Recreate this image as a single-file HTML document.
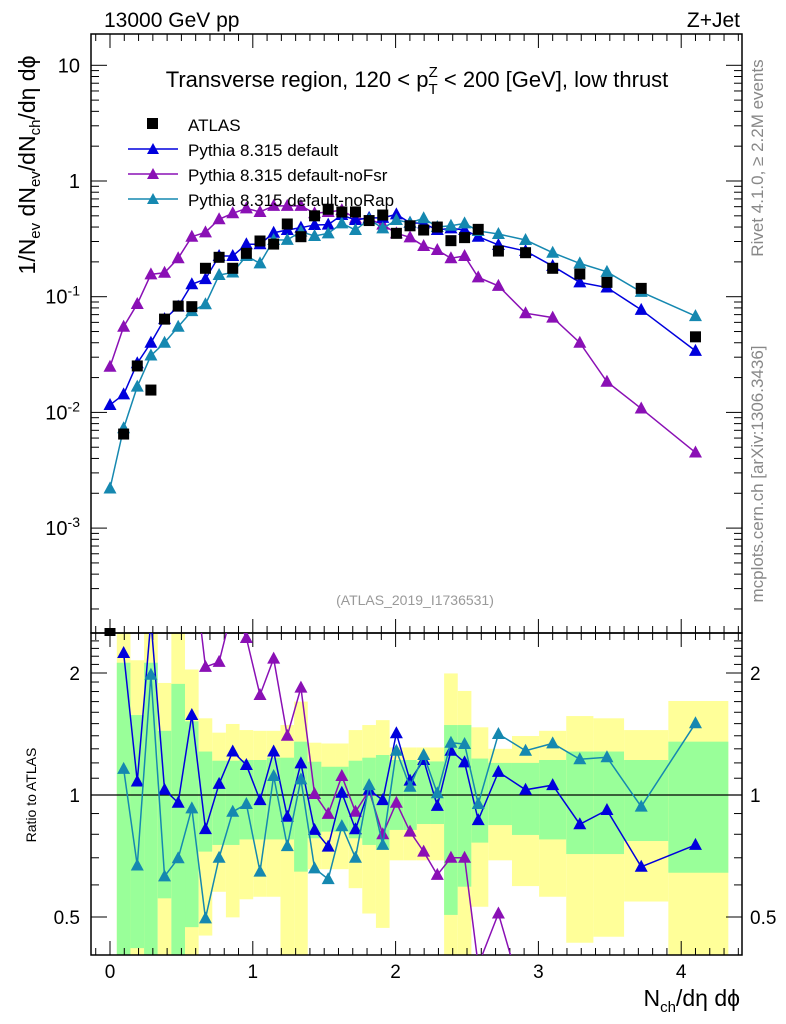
<!DOCTYPE html>
<html><head><meta charset="utf-8"><style>
html,body{margin:0;padding:0;background:#fff;overflow:hidden;width:786px;height:1024px;}
svg{display:block;font-family:"Liberation Sans",sans-serif;}
</style></head><body>
<svg id="chart" width="786" height="1024" viewBox="0 0 786 1024" xmlns="http://www.w3.org/2000/svg">
<defs>
<clipPath id="clipMain"><rect x="91" y="34" width="651" height="599"/></clipPath>
<clipPath id="clipRatio"><rect x="91" y="633" width="651" height="322"/></clipPath>
</defs>
<g id="bands" clip-path="url(#clipRatio)"></g>
<g id="grid"></g>
<g id="mainMarks" clip-path="url(#clipMain)"></g>
<g id="ratioMarks" clip-path="url(#clipRatio)"></g>
<g id="texts">
<text x="104" y="27" font-size="21">13000 GeV pp</text>
<text x="740" y="27" font-size="21" text-anchor="end">Z+Jet</text>
<text x="417" y="87" font-size="22" text-anchor="middle">Transverse region, 120 &lt; p<tspan font-size="15" dy="7">T</tspan><tspan font-size="15" dx="-9" dy="-17">Z</tspan><tspan dy="10"> &lt; 200 [GeV], low thrust</tspan></text>
<text x="415" y="605" font-size="14" fill="#999" text-anchor="middle">(ATLAS_2019_I1736531)</text>
<text transform="translate(763,158) rotate(-90)" font-size="17" fill="#888" text-anchor="middle">Rivet 4.1.0, ≥ 2.2M events</text>
<text transform="translate(763,474) rotate(-90)" font-size="17" fill="#888" text-anchor="middle">mcplots.cern.ch [arXiv:1306.3436]</text>
<text transform="translate(35,165) rotate(-90)" font-size="23" text-anchor="middle">1/N<tspan font-size="15" dy="5">ev</tspan><tspan dy="-5"> dN</tspan><tspan font-size="15" dy="5">ev</tspan><tspan dy="-5">/dN</tspan><tspan font-size="15" dy="5">ch</tspan><tspan dy="-5">/dη dϕ</tspan></text>
<text transform="translate(36,795) rotate(-90)" font-size="14" text-anchor="middle">Ratio to ATLAS</text>
<text x="740" y="1006" font-size="23" text-anchor="end">N<tspan font-size="15" dy="6">ch</tspan><tspan dy="-6">/dη dϕ</tspan></text>
</g>
<g id="legend">
<rect x="147" y="118" width="11" height="11" fill="#000"/>
<text x="188" y="131" font-size="17">ATLAS</text>
<line x1="128" y1="149" x2="178" y2="149" stroke="#0000dd" stroke-width="1.5"/>
<polygon points="153,143 159,154 147,154" fill="#0000dd"/>
<text x="188" y="156" font-size="17">Pythia 8.315 default</text>
<line x1="128" y1="174" x2="178" y2="174" stroke="#8a10b5" stroke-width="1.5"/>
<polygon points="153,168 159,179 147,179" fill="#8a10b5"/>
<text x="188" y="181" font-size="17">Pythia 8.315 default-noFsr</text>
<line x1="128" y1="199" x2="178" y2="199" stroke="#1588b0" stroke-width="1.5"/>
<polygon points="153,193 159,204 147,204" fill="#1588b0"/>
<text x="188" y="206" font-size="17">Pythia 8.315 default-noRap</text>
</g>
</svg>
<script>
// ---- data ----
var xVals = [0,0.0955,0.191,0.2865,0.382,0.4775,0.573,0.6685,0.764,0.8595,0.955,1.0505,1.146,1.2415,1.337,1.4325,1.528,1.6235,1.719,1.8145,1.91,2.0055,2.101,2.1965,2.292,2.3875,2.483,2.5785,2.72,2.91,3.10,3.29,3.48,3.72,4.10];
var binEdgeLast = 4.33;
var atlasVals = [0.00012,0.0065,0.0252,0.0156,0.064,0.083,0.082,0.176,0.219,0.176,0.237,0.303,0.285,0.425,0.33,0.50,0.57,0.54,0.54,0.455,0.508,0.353,0.41,0.377,0.40,0.305,0.324,0.382,0.248,0.24,0.176,0.157,0.133,0.118,0.045];
var defaultVals = [0.0116,0.0143,0.0266,0.040,0.064,0.082,0.128,0.142,0.225,0.225,0.284,0.284,0.357,0.377,0.395,0.417,0.42,0.508,0.46,0.48,0.48,0.515,0.436,0.43,0.377,0.39,0.377,0.33,0.28,0.248,0.184,0.133,0.12,0.077,0.034];
var noFsrVals = [0.0248,0.055,0.0865,0.156,0.161,0.215,0.33,0.36,0.467,0.526,0.58,0.54,0.61,0.61,0.61,0.526,0.54,0.56,0.475,0.47,0.42,0.353,0.326,0.274,0.253,0.215,0.225,0.147,0.124,0.072,0.066,0.040,0.0184,0.0108,0.0045];
var noRapVals = [0.0022,0.0073,0.0167,0.031,0.040,0.055,0.075,0.086,0.154,0.162,0.225,0.194,0.309,0.31,0.365,0.335,0.353,0.43,0.377,0.467,0.39,0.46,0.436,0.476,0.40,0.41,0.43,0.37,0.348,0.309,0.24,0.194,0.164,0.110,0.068];
var defaultRatio = [null,2.24,1.08,2.7,1.03,0.957,1.575,0.824,1.065,1.28,1.186,0.971,1.28,0.884,1.197,0.82,0.746,1.013,0.823,1.03,0.971,1.42,1.085,1.22,0.94,1.286,1.204,0.867,1.14,1.03,1.058,0.847,0.918,0.665,0.753];
var noFsrRatio = [null,4,4,4,4,4,4,2.07,2.13,2.9,2.44,1.765,2.17,1.40,1.84,1.006,0.898,1.114,0.909,1.025,0.80,0.957,0.812,0.725,0.635,0.70,0.70,0.38,0.51,0.30,0.375,0.25,0.14,0.09,0.10];
var noRapRatio = [null,1.16,0.67,1.98,0.63,0.698,0.927,0.496,0.70,0.909,0.95,0.647,1.114,0.748,1.093,0.659,0.62,0.838,0.70,1.058,0.753,1.286,1.048,1.255,1.01,1.346,1.336,0.95,1.414,1.286,1.341,1.225,1.239,0.936,1.503];
var yellowHi = [null,2.6,2.15,2.6,1.89,2.6,2.04,1.546,1.425,1.497,1.446,1.44,1.44,1.488,1.70,1.346,1.34,1.34,1.446,1.488,1.53,1.31,1.31,1.31,1.31,1.995,1.806,1.469,1.30,1.398,1.44,1.566,1.546,1.446,1.706];
var greenHi = [null,2.12,1.575,2.12,1.44,1.88,1.52,1.28,1.215,1.215,1.22,1.22,1.236,1.236,1.354,1.208,1.174,1.174,1.215,1.236,1.255,1.22,1.22,1.21,1.21,1.488,1.488,1.23,1.2,1.2,1.22,1.28,1.28,1.22,1.354];
var greenLo = [null,0.3,0.419,0.3,0.556,0.3,0.472,0.725,0.753,0.753,0.777,0.777,0.777,0.777,0.647,0.782,0.812,0.812,0.782,0.753,0.735,0.82,0.82,0.848,0.848,0.506,0.594,0.763,0.843,0.797,0.777,0.715,0.715,0.77,0.643];
var yellowLo = [null,0.3,0.3,0.3,0.3,0.3,0.3,0.45,0.577,0.499,0.553,0.561,0.561,0.3,0.3,0.656,0.656,0.656,0.589,0.51,0.47,0.69,0.69,0.69,0.69,0.3,0.3,0.53,0.69,0.596,0.561,0.432,0.447,0.546,0.3];
var xTicks = [0,1,2,3,4];
var mainYTicks = [10,1,0.1,0.01,0.001];
var ratioTicks = [0.5,1,2];

// ---- scales ----
function X(v){return 110 + v*142.8;}
function YM(v){return 181 - 115.7*Math.log10(v);}
function YR(r){return 795 - 405.3*Math.log10(r);}
var NS="http://www.w3.org/2000/svg";
function mk(tag,attrs,parent){var e=document.createElementNS(NS,tag);for(var k in attrs)e.setAttribute(k,attrs[k]);parent.appendChild(e);return e;}
var grid=document.getElementById('grid'), bands=document.getElementById('bands');
var mainG=document.getElementById('mainMarks'), ratG=document.getElementById('ratioMarks');

// bands
for (var i=1;i<xVals.length;i++){
  var lo=(xVals[i-1]+xVals[i])/2, hi=(i<xVals.length-1)?(xVals[i]+xVals[i+1])/2:binEdgeLast;
  var yb=mk('rect',{x:X(lo),width:X(hi)-X(lo),y:YR(yellowHi[i]),height:YR(yellowLo[i])-YR(yellowHi[i]),fill:'#ffff99'},bands);
  
  
  var gb=mk('rect',{x:X(lo),width:X(hi)-X(lo),y:YR(greenHi[i]),height:YR(greenLo[i])-YR(greenHi[i]),fill:'#99ff99'},bands);
  
  
}

// frames
var f1=mk('rect',{x:91,y:34,width:651,height:599,fill:'none',stroke:'#000','stroke-width':1.5},grid);


var f2=mk('rect',{x:91,y:633,width:651,height:322,fill:'none',stroke:'#000','stroke-width':1.5},grid);


var one=mk('line',{x1:91,x2:742,y1:YR(1),y2:YR(1),stroke:'#000','stroke-width':1.2},grid);



// x ticks
for (var t=-1;t<=44;t++){
  var v=t/10, px=X(v); if(px<92||px>741) continue;
  var L=(t%10===0)?14:7;
  [34,633].forEach(function(y0){mk('line',{x1:px,x2:px,y1:y0,y2:y0+L,stroke:'#000'},grid);});
  [633,955].forEach(function(y0){mk('line',{x1:px,x2:px,y1:y0,y2:y0-L,stroke:'#000'},grid);});
}
xTicks.forEach(function(v){
  var tx=mk('text',{x:X(v),y:978,'font-size':19,'text-anchor':'middle'},grid);
  
  
  tx.textContent=String(v);
});
// main y ticks
for (var d=-4; d<=1; d++){
  for (var m=1;m<10;m++){
    var val=m*Math.pow(10,d), py=YM(val); if(py<35||py>632) continue;
    var L2=(m===1)?16:8;
    mk('line',{x1:91,x2:91+L2,y1:py,y2:py,stroke:'#000'},grid);
    mk('line',{x1:742,x2:742-L2,y1:py,y2:py,stroke:'#000'},grid);
  }
}
mainYTicks.forEach(function(v){
  var tx=mk('text',{x:80,y:YM(v)+7,'font-size':20,'text-anchor':'end'},grid);
  
  
  var e=Math.round(Math.log10(v));
  if(e===1) tx.textContent='10'; else if(e===0) tx.textContent='1';
  else { tx.textContent='10'; var ts=mk('tspan',{'font-size':14,dy:-8},tx); ts.textContent=String(e); }
});
// ratio ticks
for (var r=5;r<=25;r++){
  var rv=r/10, py2=YR(rv); if(py2<634||py2>954) continue;
  var L3=(r===5||r===10||r===20)?16:8;
  mk('line',{x1:91,x2:91+L3,y1:py2,y2:py2,stroke:'#000'},grid);
  mk('line',{x1:742,x2:742-L3,y1:py2,y2:py2,stroke:'#000'},grid);
}
ratioTicks.forEach(function(v){
  var a=mk('text',{x:80,y:YR(v)+7,'font-size':19,'text-anchor':'end'},grid);
  
  
  a.textContent=String(v);
  var b=mk('text',{x:750,y:YR(v)+7,'font-size':19},grid);
  
  
  b.textContent=String(v);
});

// series
function tri(g,x,y,c){var p=mk('polygon',{points:(x)+','+(y-7)+' '+(x+6.5)+','+(y+5)+' '+(x-6.5)+','+(y+5),fill:c},g);return p;}
function series(g,vals,yf,c,name){
  var pts=[];
  for(var i=0;i<vals.length;i++){ if(vals[i]==null) continue; pts.push(X(xVals[i])+','+yf(vals[i])); }
  var pl=mk('polyline',{points:pts.join(' '),fill:'none',stroke:c,'stroke-width':1.5},g);
  
  
  for(var j=0;j<vals.length;j++){ if(vals[j]==null) continue;
    var m=tri(g,X(xVals[j]),yf(vals[j]),c);
    
    
  }
}
series(mainG,noFsrVals,YM,'#8a10b5','nofsr');
series(mainG,defaultVals,YM,'#0000dd','default');
series(mainG,noRapVals,YM,'#1588b0','norap');
for(var k=0;k<atlasVals.length;k++){
  var sq=mk('rect',{x:X(xVals[k])-5.5,y:YM(atlasVals[k])-5.5,width:11,height:11,fill:'#000'},mainG);
  
  
}
series(ratG,noFsrRatio,YR,'#8a10b5','nofsr-ratio');
series(ratG,defaultRatio,YR,'#0000dd','default-ratio');
series(ratG,noRapRatio,YR,'#1588b0','norap-ratio');
var s0=mk('rect',{x:X(0)-5.5,y:628,width:11,height:8,fill:'#000'},grid);


</script>
</body></html>
